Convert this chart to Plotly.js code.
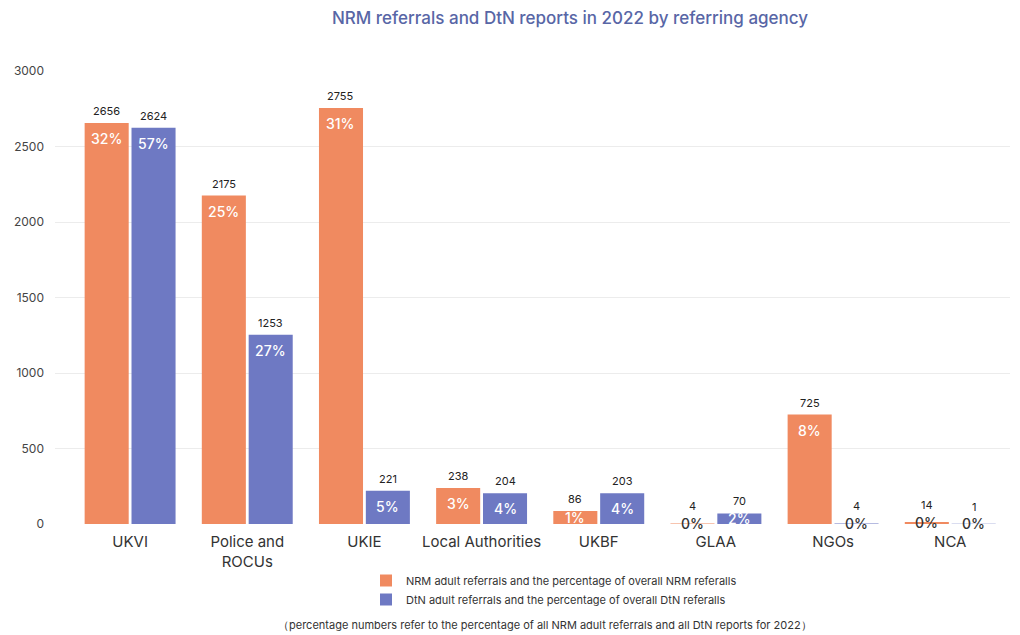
<!DOCTYPE html>
<html>
<head>
<meta charset="utf-8">
<script src="https://cdn.plot.ly/plotly-3.0.1.min.js"></script>
<style>html,body{margin:0;padding:0;background:#fff;}#chart{width:1020px;height:635px;}</style>
</head>
<body>
<div id="chart"></div>
<script>
const categories = ["UKVI", "Police and<br>ROCUs", "UKIE", "Local Authorities", "UKBF", "GLAA", "NGOs", "NCA"];
const nrmValues = [2656, 2175, 2755, 238, 86, 4, 725, 14];
const dtnValues = [2624, 1253, 221, 204, 203, 70, 4, 1];
const nrmPct = [32, 25, 31, 3, 1, 0, 8, 0];
const dtnPct = [57, 27, 5, 4, 4, 2, 0, 0];
const nrmName = "NRM adult referrals and the percentage of overall NRM referalls";
const dtnName = "DtN adult referrals and the percentage of overall DtN referalls";
const titleText = "NRM referrals and DtN reports in 2022 by referring agency";
const footnote = "（percentage numbers refer to the percentage of all NRM adult referrals and all DtN reports for 2022）";

const ORANGE = "#F08A60";
const BLUE = "#6E79C3";
const FONT = "Inter, 'Noto Sans', sans-serif";

const plotL = 55, plotR = 10, plotT = 71, plotB = 111;
const plotW = 1020 - plotL - plotR;
const plotH = 635 - plotT - plotB;
const xRange = [-0.641, 7.51];
const bargap = 0.2, bargroupgap = 0.06;
const slot = plotW / (xRange[1] - xRange[0]);
const barOffset = slot * (1 - bargap) / 4;

const traces = [
  {type: "bar", name: nrmName, x: categories, y: nrmValues, marker: {color: ORANGE}, hoverinfo: "x+y"},
  {type: "bar", name: dtnName, x: categories, y: dtnValues, marker: {color: BLUE}, hoverinfo: "x+y"}
];

const annotations = [];
function addLabels(values, pcts, shift) {
  values.forEach((v, i) => {
    const tiny = v < 30;
    annotations.push({
      x: categories[i], y: v, xref: "x", yref: "y", xshift: shift, yshift: tiny ? 8 : 3,
      yanchor: "bottom", showarrow: false, text: String(v),
      font: {family: FONT, size: 11, color: "#222"}
    });
    const small = v < 150;
    annotations.push({
      x: categories[i], y: small ? v / 2 : v, xref: "x", yref: "y", xshift: shift,
      yshift: small ? 0 : -5, yanchor: small ? "middle" : "top", showarrow: false,
      text: pcts[i] + "%",
      font: {family: FONT, size: 14, color: tiny ? "#333" : "#ffffff", weight: 500}
    });
  });
}
addLabels(nrmValues, nrmPct, -barOffset);
addLabels(dtnValues, dtnPct, barOffset);

annotations.push({
  xref: "paper", yref: "paper", x: (545 - plotL) / plotW, y: -(625 - (plotT + plotH)) / plotH,
  yanchor: "middle", xanchor: "center", showarrow: false, text: footnote,
  font: {family: FONT, size: 11, color: "#333"}
});

const layout = {
  width: 1020, height: 635,
  margin: {l: plotL, r: plotR, t: plotT, b: plotB},
  paper_bgcolor: "#fff", plot_bgcolor: "#fff",
  title: {text: titleText, x: 570 / 1020, xanchor: "center", xref: "container", y: 1 - 18 / 635, yanchor: "middle", yref: "container",
          font: {family: FONT, size: 17, color: "#5866A6", weight: 500}},
  barmode: "group", bargap: bargap, bargroupgap: bargroupgap,
  showlegend: true,
  legend: {x: (366 - plotL) / plotW, xanchor: "left", y: -(566 - (plotT + plotH)) / plotH, yanchor: "top", orientation: "v",
           font: {family: FONT, size: 11, color: "#333"}, tracegroupgap: 0, itemwidth: 30, bgcolor: "rgba(0,0,0,0)"},
  xaxis: {type: "category", range: xRange, tickfont: {family: FONT, size: 15, color: "#333"}, showgrid: false, zeroline: false,
          showline: false, ticks: "", ticklen: 0, ticklabelstandoff: 7},
  yaxis: {range: [0, 3000], dtick: 500, tick0: 0, tickfont: {family: FONT, size: 12, color: "#444"},
          gridcolor: "#ececec", zeroline: false, showline: false, ticks: "", ticklabelstandoff: 10},
  annotations: annotations,
  font: {family: FONT}
};

Plotly.newPlot("chart", traces, layout, {displayModeBar: false, staticPlot: true});
</script>
</body>
</html>
